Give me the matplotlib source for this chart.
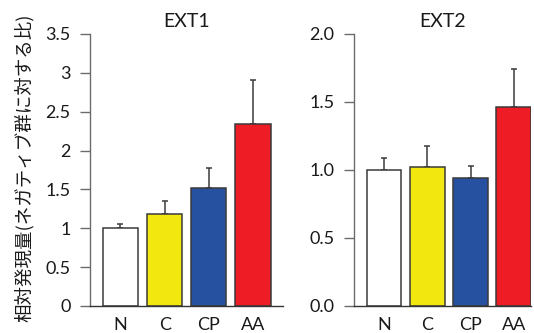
import matplotlib
matplotlib.use("Agg")
import matplotlib.pyplot as plt

# data
groups = ['N', 'C', 'CP', 'AA']
bar_colors = ['#ffffff', '#f2e70f', '#2650a0', '#ee1c25']

ext1_mean = [1.00, 1.19, 1.52, 2.34]
ext1_err = [0.06, 0.16, 0.26, 0.57]

ext2_mean = [1.00, 1.02, 0.94, 1.465]
ext2_err = [0.09, 0.16, 0.09, 0.275]

ext1_ticks = [0, 0.5, 1, 1.5, 2, 2.5, 3, 3.5]
ext1_ticklabels = ['0', '0.5', '1', '1.5', '2', '2.5', '3', '3.5']
ext2_ticks = [0.0, 0.5, 1.0, 1.5, 2.0]
ext2_ticklabels = ['0.0', '0.5', '1.0', '1.5', '2.0']

ylabel = '相対発現量(ネガティブ群に対する比)'

plt.rcParams['font.family'] = ['Lato', 'DejaVu Sans']

W, H = 534, 333
fig = plt.figure(figsize=(W / 100, H / 100), dpi=100)


def draw_panel(rect, title, means, errs, ticks, ticklabels, xlim):
    ax = fig.add_axes(rect)
    x = range(len(groups))
    ax.bar(x, means, width=0.8, color=bar_colors, edgecolor='#3a3a3a',
           linewidth=1.1, zorder=2)
    ax.errorbar(x, means, yerr=[[0] * len(errs), errs], fmt='none',
                ecolor='#3a3a3a', elinewidth=1.1, capsize=2.2, capthick=1.1,
                zorder=1)
    ax.set_xlim(*xlim)
    ax.set_ylim(ticks[0], ticks[-1])
    ax.set_yticks(ticks)
    ax.set_yticklabels(ticklabels)
    ax.set_xticks(list(x))
    ax.set_xticklabels(groups)
    ax.tick_params(axis='y', direction='out', length=7, width=1,
                   color='#6b6b6b', pad=7, labelsize=13, labelcolor='#1a1a1a')
    ax.tick_params(axis='x', length=0, pad=8, labelsize=13,
                   labelcolor='#1a1a1a')
    for side in ('top', 'right'):
        ax.spines[side].set_visible(False)
    ax.spines['left'].set_color('#6b6b6b')
    ax.spines['left'].set_linewidth(1)
    ax.spines['bottom'].set_color('#333333')
    ax.spines['bottom'].set_linewidth(1)
    ax.set_title(title, fontsize=14, color='#1a1a1a', pad=5)
    return ax


bottom = (H - 306) / H
height = 272 / H
draw_panel([90 / W, bottom, 193 / W, height], 'EXT1', ext1_mean, ext1_err,
           ext1_ticks, ext1_ticklabels, (-0.69, 3.68))
draw_panel([354 / W, bottom, 177 / W, height], 'EXT2', ext2_mean, ext2_err,
           ext2_ticks, ext2_ticklabels, (-0.70, 3.40))

fig.text(24 / W, 1 - 14 / H, ylabel, rotation=90, ha='center', va='top',
         fontsize=13.3, color='#1a1a1a',
         family=['Noto Sans CJK JP', 'DejaVu Sans'])

fig.savefig('out.png', dpi=100)
